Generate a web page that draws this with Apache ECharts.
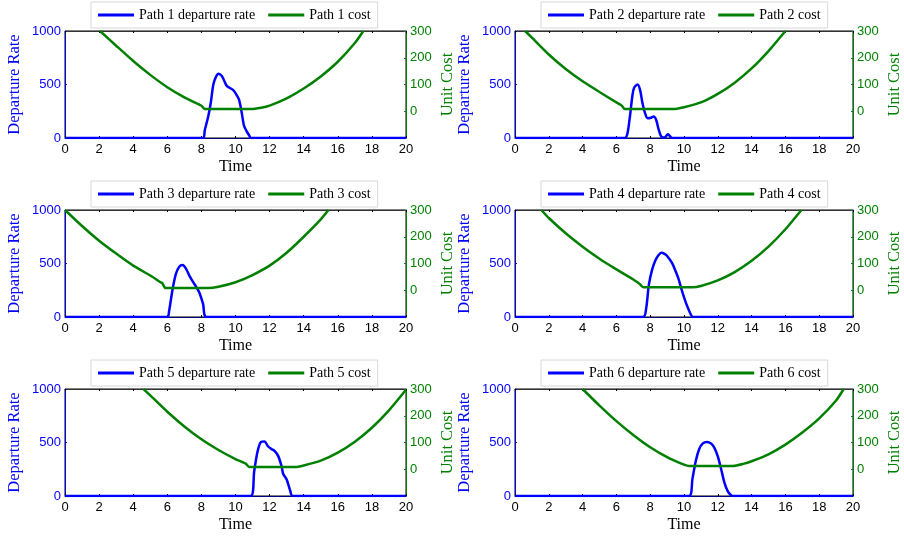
<!DOCTYPE html>
<html>
<head>
<meta charset="utf-8">
<script src="https://cdn.jsdelivr.net/npm/echarts@6/dist/echarts.min.js"></script>
<style>
  html, body { margin: 0; padding: 0; background: #fff; }
  #chart { width: 904px; height: 538px; }
</style>
</head>
<body>
<div id="chart"></div>
<script>
// time axis ticks
var timeTicks = [0, 2, 4, 6, 8, 10, 12, 14, 16, 18, 20];

// departure rate per path, [time, rate]
var rate1 = [[0, 0], [8.1, 0], [8.2, 75], [8.4, 200], [8.55, 330], [8.7, 500], [8.85, 570], [9.0, 600], [9.2, 580], [9.35, 530], [9.5, 485], [9.7, 465], [9.85, 450], [10.0, 420], [10.2, 360], [10.35, 250], [10.5, 115], [10.65, 65], [10.8, 25], [10.9, 0], [20, 0]];
var rate2 = [[0, 0], [6.5, 0], [6.65, 40], [6.8, 200], [6.95, 400], [7.05, 470], [7.25, 500], [7.4, 450], [7.55, 320], [7.7, 230], [7.85, 185], [8.05, 190], [8.2, 200], [8.35, 170], [8.5, 80], [8.65, 15], [8.85, 5], [9.05, 35], [9.15, 20], [9.3, 0], [20, 0]];
var rate3 = [[0, 0], [6.0, 0], [6.1, 50], [6.3, 250], [6.5, 400], [6.7, 470], [6.9, 485], [7.1, 450], [7.3, 385], [7.5, 330], [7.7, 280], [7.9, 220], [8.1, 120], [8.3, 0], [20, 0]];
var rate4 = [[0, 0], [7.58, 0], [7.76, 80], [7.92, 300], [8.11, 440], [8.31, 530], [8.5, 580], [8.66, 600], [8.85, 590], [9.0, 570], [9.29, 505], [9.5, 430], [9.68, 355], [9.85, 260], [9.97, 200], [10.12, 130], [10.26, 75], [10.4, 25], [10.52, 0], [20, 0]];
var rate5 = [[0, 0], [10.9, 0], [11.1, 235], [11.3, 420], [11.5, 505], [11.7, 510], [11.9, 465], [12.1, 440], [12.3, 420], [12.5, 375], [12.7, 280], [12.8, 205], [13.0, 155], [13.2, 55], [13.35, 0], [20, 0]];
var rate6 = [[0, 0], [10.3, 0], [10.5, 160], [10.7, 330], [10.9, 440], [11.1, 490], [11.35, 505], [11.6, 490], [11.8, 450], [12.0, 370], [12.2, 250], [12.4, 120], [12.6, 40], [12.8, 5], [12.9, 0], [20, 0]];

// unit cost per path, [time, cost]
var cost1 = [[2.05, 300], [3, 245], [4, 188], [5, 136], [6, 90], [7, 52], [7.9, 24], [8.0, 21], [8.2, 8], [10.9, 8], [11.5, 13], [12, 21], [13, 48], [14, 85], [15, 130], [16, 185], [17, 255], [17.5, 300]];
var cost2 = [[0.6, 300], [1, 275], [2, 212], [3, 158], [4, 112], [5, 72], [6, 33], [6.3, 22], [6.5, 8], [9.3, 8], [10, 15], [11, 33], [12, 65], [13, 107], [14, 160], [15, 225], [16, 300]];
var cost3 = [[0, 300], [1, 240], [2, 185], [3, 137], [4, 92], [5, 55], [5.6, 30], [5.7, 27], [5.9, 8], [8.4, 8], [9, 13], [10, 30], [11, 57], [12, 92], [13, 140], [14, 200], [15, 265], [15.45, 300]];
var cost4 = [[1.56, 300], [2, 270], [3, 213], [4, 163], [5, 118], [6, 78], [7, 40], [7.4, 22], [7.6, 11], [10.5, 11], [11, 16], [12, 37], [13, 68], [14, 110], [15, 163], [16, 228], [16.95, 300]];
var cost5 = [[4.6, 300], [5, 276], [6, 215], [7, 160], [8, 112], [9, 72], [10, 38], [10.6, 21], [10.8, 8], [13.5, 8], [14, 14], [15, 32], [16, 62], [17, 103], [18, 155], [19, 220], [20, 297]];
var cost6 = [[4, 300], [5, 238], [6, 180], [7, 128], [8, 82], [9, 45], [10, 17], [10.3, 12], [12.9, 12], [13.5, 20], [14, 30], [15, 56], [16, 92], [17, 137], [18, 190], [19, 257], [19.45, 300]];

var rates = [rate1, rate2, rate3, rate4, rate5, rate6];
var costs = [cost1, cost2, cost3, cost4, cost5, cost6];

var sans = 'Liberation Sans';
var serif = 'Liberation Serif';
var colLeft = [65, 515];
var rowTop = [31, 210, 389];

function buildOption() {
  var grid = [], xAxis = [], yAxis = [], legend = [], series = [];

  for (var i = 0; i < 6; i++) {
    var gLeft = colLeft[i % 2], gTop = rowTop[Math.floor(i / 2)];
    grid.push({
      left: gLeft, top: gTop, width: 341, height: 107,
      show: true, borderColor: '#000', borderWidth: 1
    });
    xAxis.push({
      gridIndex: i, type: 'value', min: 0, max: 20, interval: 2,
      name: 'Time', nameLocation: 'middle', nameGap: 21,
      nameTextStyle: {fontFamily: serif, fontSize: 16, color: '#000'},
      axisLine: {onZero: false, lineStyle: {color: '#000080', width: 1}},
      axisTick: {inside: true, length: 2, lineStyle: {color: '#000'}},
      axisLabel: {fontFamily: sans, fontSize: 13, color: '#000', margin: 5},
      splitLine: {show: false}
    });
    xAxis.push({
      gridIndex: i, type: 'value', min: 0, max: 20, interval: 2, position: 'top',
      axisLine: {onZero: false, lineStyle: {color: '#333', width: 1}},
      axisTick: {inside: true, length: 2, lineStyle: {color: '#000'}},
      axisLabel: {show: false},
      splitLine: {show: false}
    });
    yAxis.push({
      gridIndex: i, type: 'value', min: 0, max: 1000, interval: 500, position: 'left',
      name: 'Departure Rate', nameLocation: 'middle', nameGap: 42,
      nameTextStyle: {fontFamily: serif, fontSize: 16.5, color: '#0000ff'},
      axisLine: {show: true, onZero: false, lineStyle: {color: '#0000ff', width: 1}},
      axisTick: {inside: true, length: 2, lineStyle: {color: '#0000ff'}},
      axisLabel: {
        fontFamily: sans, fontSize: 13, color: '#0000ff', margin: 4,
        formatter: function (v) { return String(v); }
      },
      splitLine: {show: false}
    });
    yAxis.push({
      gridIndex: i, type: 'value', min: -100, max: 300, interval: 100, position: 'right',
      name: 'Unit Cost', nameLocation: 'middle', nameGap: 33,
      nameTextStyle: {fontFamily: serif, fontSize: 16.5, color: '#008000'},
      axisLine: {show: true, onZero: false, lineStyle: {color: '#008000', width: 1}},
      axisTick: {inside: true, length: 2, lineStyle: {color: '#1f6a4a'}},
      axisLabel: {
        fontFamily: sans, fontSize: 13, color: '#008000', margin: 4,
        formatter: function (v) { return v < 0 ? '' : String(v); }
      },
      splitLine: {show: false}
    });

    var rateName = 'Path ' + (i + 1) + ' departure rate';
    var costName = 'Path ' + (i + 1) + ' cost';
    legend.push({
      data: [rateName, costName],
      left: gLeft + 26, top: gTop - 29,
      icon: 'rect', itemWidth: 36, itemHeight: 3, itemGap: 13,
      padding: [6, 7],
      borderColor: '#d8d8d8', borderWidth: 1, backgroundColor: '#fff',
      textStyle: {fontFamily: serif, fontSize: 14, color: '#000'}
    });

    series.push({
      name: rateName, type: 'line', xAxisIndex: i * 2, yAxisIndex: i * 2,
      data: rates[i], showSymbol: false, symbol: 'none', smooth: 0.3,
      lineStyle: {color: '#0000ff', width: 2.5}, itemStyle: {color: '#0000ff'}
    });
    series.push({
      name: costName, type: 'line', xAxisIndex: i * 2, yAxisIndex: i * 2 + 1,
      data: costs[i], showSymbol: false, symbol: 'none', smooth: 0.2,
      lineStyle: {color: '#008000', width: 2.5}, itemStyle: {color: '#008000'}
    });
  }

  return {
    animation: false,
    grid: grid,
    xAxis: xAxis,
    yAxis: yAxis,
    legend: legend,
    series: series
  };
}

var chart = echarts.init(document.getElementById('chart'));
chart.setOption(buildOption());
</script>
</body>
</html>
